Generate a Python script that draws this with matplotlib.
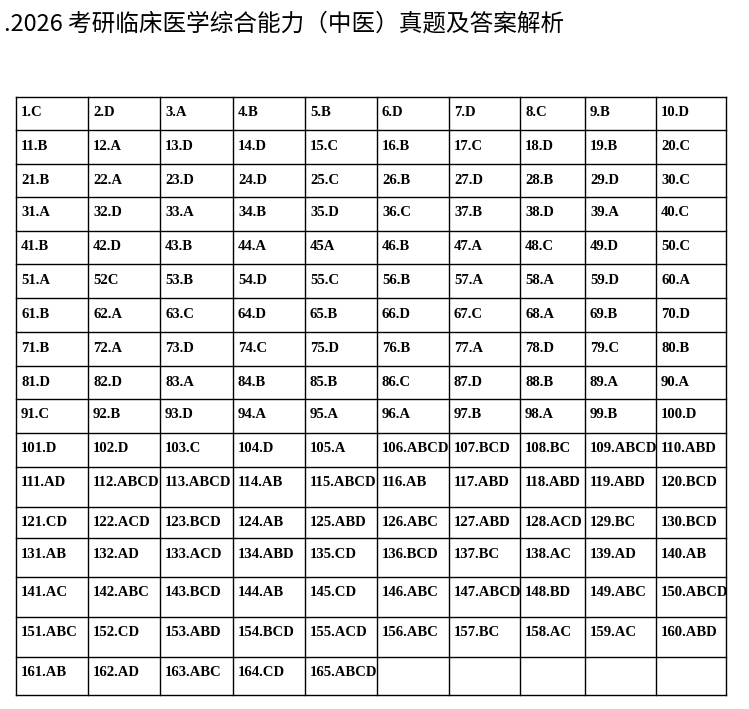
import matplotlib
matplotlib.use("Agg")
import matplotlib.pyplot as plt

title = ".2026 考研临床医学综合能力（中医）真题及答案解析"
answers = ("CDABBDDCBD" "BADDCBCDBC" "BADDCBDBDC" "ADABDCBDAC" "BDBAABACDC"
           "ACBDCBAADA" "BACDBDCABD" "BADCDBADCB" "DDABBCDBAA" "CBDAAABABD"
           "DDCDA")
multi = ["ABCD", "BCD", "BC", "ABCD", "ABD",
         "AD", "ABCD", "ABCD", "AB", "ABCD", "AB", "ABD", "ABD", "ABD", "BCD",
         "CD", "ACD", "BCD", "AB", "ABD", "ABC", "ABD", "ACD", "BC", "BCD",
         "AB", "AD", "ACD", "ABD", "CD", "BCD", "BC", "AC", "AD", "AB",
         "AC", "ABC", "BCD", "AB", "CD", "ABC", "ABCD", "BD", "ABC", "ABCD",
         "ABC", "CD", "ABD", "BCD", "ACD", "ABC", "BC", "AC", "AC", "ABD",
         "AB", "AD", "ABC", "CD", "ABCD"]
all_ans = list(answers) + multi
labels = []
for i, a in enumerate(all_ans):
    n = i + 1
    labels.append(f"{n}{a}" if n in (45, 52) else f"{n}.{a}")

col_edges = [16, 88, 160, 233, 305, 377, 449, 520, 585, 656, 726]
row_edges = [97, 130, 164, 197, 231, 264, 298, 332, 366, 399, 433, 467, 507, 538, 577, 617, 657, 695]

fig = plt.figure(figsize=(7.49, 7.09), dpi=100)
ax = fig.add_axes([0, 0, 1, 1])
ax.set_xlim(0, 749); ax.set_ylim(709, 0); ax.axis("off")

ax.text(4, 24, title, fontsize=17, va="center", ha="left",
        family=["Noto Sans CJK SC", "DejaVu Sans"], color="black")

for x in col_edges:
    ax.plot([x, x], [row_edges[0], row_edges[-1]], color="black", lw=1)
for y in row_edges:
    ax.plot([col_edges[0], col_edges[-1]], [y, y], color="black", lw=1)

for i, lab in enumerate(labels):
    r, c = divmod(i, 10)
    ax.text(col_edges[c] + 5, row_edges[r] + 16, lab, fontsize=10.6,
            fontweight="bold", family="Liberation Serif", va="center", ha="left")

fig.savefig("out.png", dpi=100)
